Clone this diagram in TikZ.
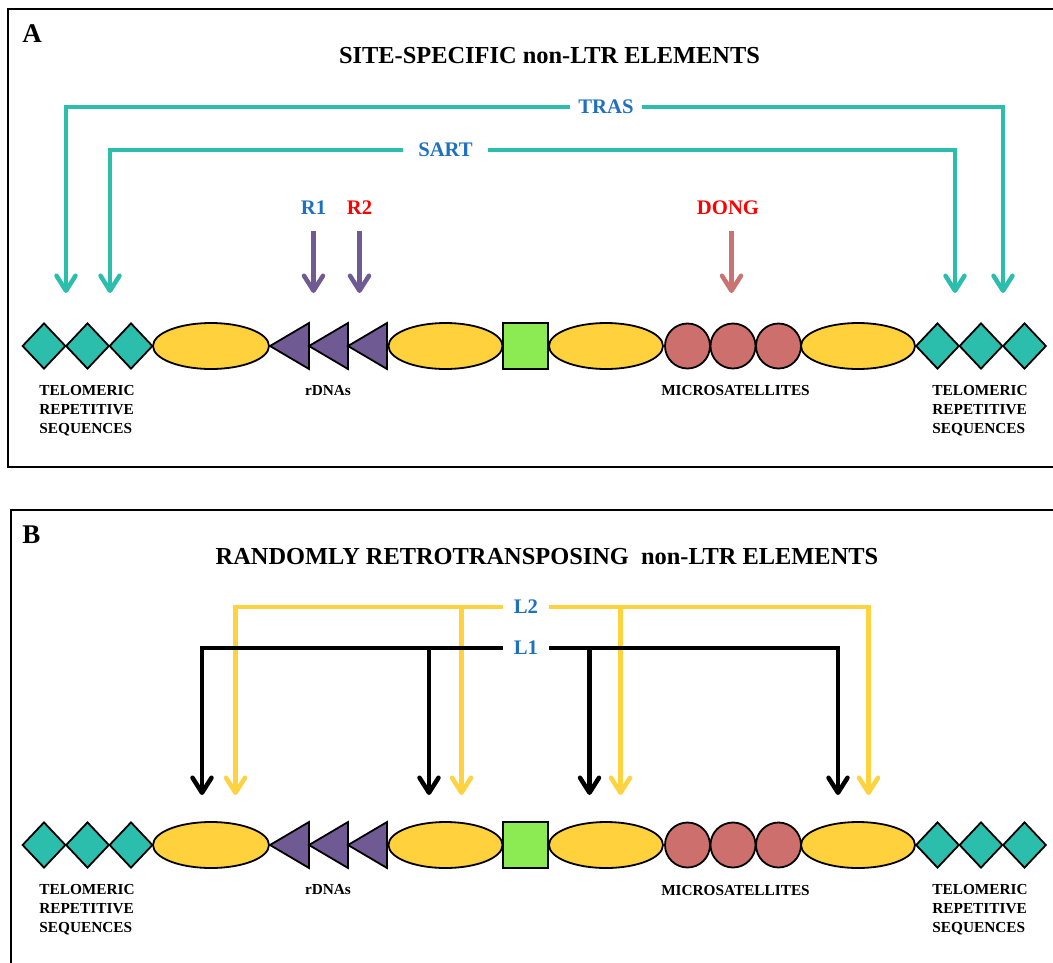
\documentclass[tikz,border=0pt]{standalone}
\usepackage{fontspec}
\setmainfont{Liberation Serif}
\usetikzlibrary{shapes.geometric,arrows.meta}

\definecolor{telocol}{HTML}{2CBEAC}
\definecolor{genecol}{HTML}{FFD13D}
\definecolor{rdnacol}{HTML}{705A93}
\definecolor{boxcol}{HTML}{8CEB52}
\definecolor{msatcol}{HTML}{CC6F6D}
\definecolor{dongcol}{HTML}{C97372}
\definecolor{lblue}{HTML}{1F70C0}
\definecolor{lred}{HTML}{FF0000}
\definecolor{ltwocol}{HTML}{FFD23F}

% one chromosome row: #1 = name prefix, #2 = vertical centre
\newcommand\chromosome[2]{%
  \node[telo] (#1ta) at (44,#2) {};
  \node[telo] (#1tb) at (87.5,#2) {};
  \node[telo] (#1tc) at (131,#2) {};
  \node[gene, minimum width=116pt] (#1ga) at (211,#2) {};
  \foreach \tx in {270,309,348}
    \filldraw[shp, fill=rdnacol] (\tx,#2) -- (\tx+39,#2-23) -- (\tx+39,#2+23) -- cycle;
  \node[gene] (#1gb) at (445.5,#2) {};
  \node[cenbox] (#1c) at (525.5,#2) {};
  \node[gene] (#1gc) at (606,#2) {};
  \node[msat] (#1ma) at (687.5,#2) {};
  \node[msat] (#1mb) at (733,#2) {};
  \node[msat] (#1mc) at (778.5,#2) {};
  \node[gene] (#1gd) at (858,#2) {};
  \node[telo] (#1td) at (937.5,#2) {};
  \node[telo] (#1te) at (981,#2) {};
  \node[telo] (#1tf) at (1024.5,#2) {};
  \node[site] (#1lt) at (87,#2+65) {TELOMERIC\\REPETITIVE\\SEQUENCES};
  \node[site] (#1lr) at (328,#2+45) {rDNAs};
  \node[site] (#1lm) at (735.5,#2+45) {MICROSATELLITES};
  \node[site] (#1rt) at (980,#2+65) {TELOMERIC\\REPETITIVE\\SEQUENCES};
}

\begin{document}
\begin{tikzpicture}[x=1pt,y=-1pt,
  shp/.style={draw=black, line width=1.8pt, inner sep=0pt},
  telo/.style={shp, diamond, fill=telocol, minimum width=43.5pt, minimum height=46pt},
  gene/.style={shp, ellipse, fill=genecol, minimum width=114pt, minimum height=46pt},
  cenbox/.style={shp, rectangle, fill=boxcol, minimum width=45pt, minimum height=46pt},
  msat/.style={shp, circle, fill=msatcol, minimum size=45pt},
  frame/.style={draw=black, line width=1.6pt},
  panel/.style={font=\bfseries\fontsize{27}{30}\selectfont, inner sep=0pt},
  title/.style={font=\bfseries\fontsize{24.4}{28}\selectfont, inner sep=0pt},
  elem/.style={font=\bfseries\fontsize{20.7}{24}\selectfont, inner ysep=0pt},
  site/.style={font=\bfseries\fontsize{15.3}{19}\selectfont, align=left, inner sep=0pt},
  jump/.style={line width=4.5pt, -{Straight Barb[length=15pt,width=19pt,round]}},
]
\useasboundingbox (0,0) rectangle (1053,962);

% ---------------- panel A: site-specific elements ----------------
\draw[frame] (8,9) rectangle (1080,467);
\node[panel] (pa) at (32,34) {A};
\node[title] (ta) at (549.5,56) {SITE-SPECIFIC non-LTR ELEMENTS};

\chromosome{a}{346}

\node[elem, text=lblue, inner xsep=8pt] (tras) at (606,107) {TRAS};
\node[elem, text=lblue, inner xsep=15pt] (sart) at (445.5,150) {SART};
\coordinate (trasl) at (66,293);
\coordinate (trasr) at (1003,293);
\coordinate (sartl) at (110,293);
\coordinate (sartr) at (955,293);
\draw[jump, telocol] (tras.west) -| (trasl);
\draw[jump, telocol] (tras.east) -| (trasr);
\draw[jump, telocol] (sart.west) -| (sartl);
\draw[jump, telocol] (sart.east) -| (sartr);

\node[elem, text=lblue, inner sep=0pt] (r1) at (313.5,208) {R1};
\node[elem, text=lred, inner sep=0pt] (r2) at (359.5,208) {R2};
\node[elem, text=lred, inner sep=0pt] (dong) at (728,208) {DONG};
\coordinate (r1t) at (313.5,293);
\coordinate (r2t) at (359.5,293);
\coordinate (dongt) at (731.5,293);
\draw[jump, rdnacol, shorten <=16pt] (r1) -- (r1t);
\draw[jump, rdnacol, shorten <=16pt] (r2) -- (r2t);
\draw[jump, dongcol, shorten <=16pt] (dong.south -| dongt) -- (dongt);

% ---------------- panel B: randomly inserting elements ----------------
\draw[frame] (11,510) rectangle (1080,1000);
\node[panel] (pb) at (31.5,535) {B};
\node[title] (tb) at (547,557) {RANDOMLY RETROTRANSPOSING\ \ non-LTR ELEMENTS};

\chromosome{b}{845}

\node[elem, text=lblue, inner xsep=11pt] (l2) at (526,607) {L2};
\node[elem, text=lblue, inner xsep=11pt] (l1) at (526,648) {L1};
\coordinate (ya) at (235.5,795);
\coordinate (yb) at (461.5,795);
\coordinate (yc) at (620.5,795);
\coordinate (yd) at (868.5,795);
\coordinate (ka) at (202,795);
\coordinate (kb) at (429,795);
\coordinate (kc) at (589.5,795);
\coordinate (kd) at (838,795);

\draw[jump, ltwocol] (l2.west) -| (ya);
\draw[jump, ltwocol] (l2.west -| yb) -- (yb);
\draw[jump, ltwocol] (l2.east -| yc) -- (yc);
\draw[jump, ltwocol] (l2.east) -| (yd);

\draw[jump, black] (l1.west) -| (ka);
\draw[jump, black] (l1.west -| kb) -- (kb);
\draw[jump, black] (l1.east -| kc) -- (kc);
\draw[jump, black] (l1.east) -| (kd);
\end{tikzpicture}
\end{document}
